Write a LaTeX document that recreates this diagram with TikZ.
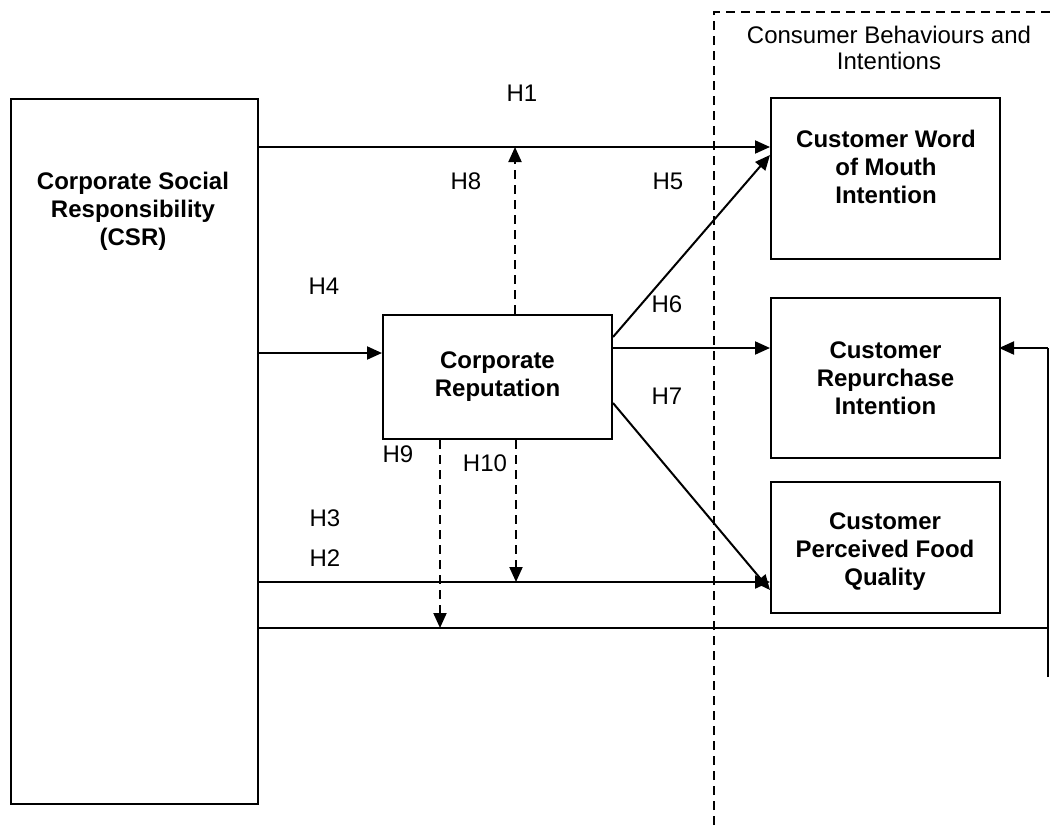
\documentclass[tikz,border=0pt]{standalone}
\usepackage{fontspec}
\setmainfont{Liberation Sans}
\usetikzlibrary{arrows.meta}
\begin{document}
\begin{tikzpicture}[x=1pt,y=-1pt,
  box/.style={draw,line width=2pt,align=center,font=\fontsize{24}{28}\selectfont\bfseries,inner sep=0pt},
  conn/.style={line width=2pt,-{Triangle[length=15pt,width=13pt]}},
  dconn/.style={conn,dash pattern=on 9pt off 6pt},
  lbl/.style={font=\fontsize{24}{26}\selectfont,inner sep=0pt},
  btxt/.style={font=\fontsize{24}{28}\selectfont\bfseries,inner sep=0pt,align=center},
  plain/.style={line width=2pt}]
\useasboundingbox (0,0) rectangle (1054,825);
% dashed region
\draw[line width=1.5pt,dash pattern=on 9pt off 6pt] (714,825) -- (714,12) -- (1054,12);
\node[lbl,align=center] (cbi) at (889,48) {Consumer Behaviours and\\Intentions};
% boxes
\node[box,minimum width=247pt,minimum height=705pt,anchor=north west] (csr) at (10,98) {};
\node[btxt] (csrt) at (133,211) {Corporate Social\\Responsibility\\(CSR)};
\node[box,minimum width=229pt,minimum height=124pt,anchor=north west] (rep) at (382,314) {Corporate\\Reputation};
\node[box,minimum width=229pt,minimum height=161pt,anchor=north west] (wom) at (770,97) {};
\node[btxt] (womt) at (886,167) {Customer Word\\of Mouth\\Intention};
\node[box,minimum width=229pt,minimum height=160pt,anchor=north west] (rpi) at (770,297) {Customer\\Repurchase\\Intention};
\node[box,minimum width=229pt,minimum height=131pt,anchor=north west] (pfq) at (770,481) {};
\node[btxt] (pfqt) at (885,552) {Customer\\Perceived Food\\Quality};
% coordinates
\coordinate (h1s) at (257,147);
\coordinate (h1e) at (770,147);
\coordinate (h1m) at (515,147);
\coordinate (h4s) at (257,353);
\coordinate (h4e) at (382,353);
\coordinate (h2s) at (257,582);
\coordinate (h2e) at (770,582);
\coordinate (h2m) at (516,582);
\coordinate (h3s) at (257,628);
\coordinate (h3m) at (440,628);
\coordinate (h3c) at (1048,628);
\coordinate (h3b) at (1048,677);
\coordinate (h3t) at (1048,348);
\coordinate (h3e) at (999,348);
% connectors
\draw[conn] (h1s) -- (h1e);
\draw[dconn] (rep.north -| h1m) -- (h1m);
\draw[conn] (h4s) -- (h4e);
\draw[conn] (rep.east |- 0,337) -- (770,155);
\draw[conn] (rep.east |- 0,348) -- (rpi.west |- 0,348);
\draw[conn] (rep.east |- 0,403) -- (770,590);
\draw[conn] (h2s) -- (h2e);
\draw[dconn] (rep.south -| h2m) -- (h2m);
\draw[dconn] (rep.south -| h3m) -- (h3m);
\draw[plain] (h3s) -- (h3c);
\draw[plain] (h3b) -- (h3t);
\draw[conn] (h3t) -- (h3e);
% labels
\node[lbl] (l1) at (522,93) {H1};
\node[lbl] (l8) at (466,181) {H8};
\node[lbl] (l5) at (668,181) {H5};
\node[lbl] (l4) at (324,286) {H4};
\node[lbl] (l6) at (667,304) {H6};
\node[lbl] (l7) at (667,396) {H7};
\node[lbl] (l9) at (398,454) {H9};
\node[lbl] (l10) at (485,463) {H10};
\node[lbl] (l3) at (325,518) {H3};
\node[lbl] (l2) at (325,558) {H2};
\end{tikzpicture}
\end{document}
